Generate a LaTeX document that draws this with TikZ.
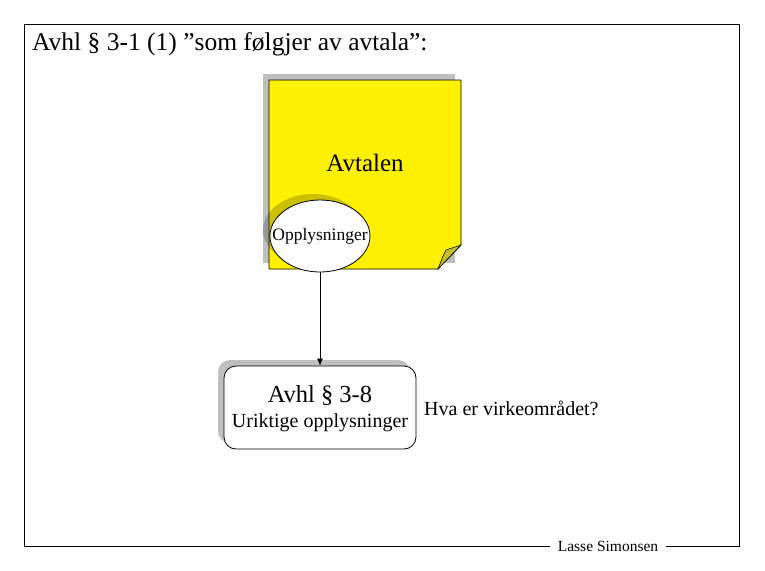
\documentclass[tikz,border=0pt]{standalone}
\usepackage{fontspec}
\setmainfont{Liberation Serif}
\usetikzlibrary{shapes.geometric,arrows.meta}
\begin{document}
\begin{tikzpicture}[x=1pt,y=-1pt,
  shadowfill/.style={fill=black!25},
  note/.style={fill=yellow, draw=black, line width=0.8pt},
  oval/.style={ellipse, draw=black, fill=white, line width=0.8pt, minimum width=100pt, minimum height=72pt, inner sep=0pt},
  rbox/.style={draw=black, fill=white, rounded corners=12pt, line width=0.8pt, minimum width=192pt, minimum height=83pt, inner sep=0pt},
  plain/.style={inner sep=0pt, anchor=west}]
\useasboundingbox (0,0) rectangle (765,570);
\fill[white] (0,0) rectangle (765,570);
% frame
\coordinate (fl) at (24,546);
\coordinate (fr) at (739,546);
\node[inner sep=0pt, font=\fontsize{15.5}{17}\selectfont] (author) at (608,546) {Lasse Simonsen};
\draw[line width=0.8pt] ([xshift=-8pt]author.west) -- (fl) -- (24,24) -- (739,24) -- (fr) -- ([xshift=8pt]author.east);
% title
\node[plain, font=\fontsize{25.5}{28}\selectfont] (title) at (32,44) {Avhl § 3-1 (1) ”som følgjer av avtala”:};
% sticky note
\fill[shadowfill] (263,74) rectangle (455,263);
\draw[note] (269,80) -- (461,80) -- (461,245) -- (438,269) -- (269,269) -- cycle;
\draw[fill={rgb,255:red,200;green,190;blue,40}, line width=0.6pt] (461,245) -- (446,250) .. controls (443,256) .. (438,269) -- cycle;
\node[font=\fontsize{25}{28}\selectfont] (avtalen) at (365,163) {Avtalen};
% ellipse
\fill[black, opacity=0.2] (313,230) ellipse (50pt and 36pt);
\node[oval, font=\fontsize{17.5}{19}\selectfont] (oppl) at (320,236) {\makebox[40pt]{Opplysninger}};
% rounded box
\fill[shadowfill, rounded corners=12pt] (218,360) rectangle (410,443);
\node[rbox] (avhl) at (320,407.5) {};
\node[inner sep=0pt, font=\fontsize{24.5}{26}\selectfont] (avhl1) at (320,396) {Avhl § 3-8};
\node[inner sep=0pt, font=\fontsize{20}{22}\selectfont] (avhl2) at (320,423) {Uriktige opplysninger};
\node[plain, font=\fontsize{20}{22}\selectfont] (hva) at (424,408) {Hva er virkeområdet?};
% arrow
\draw[line width=0.8pt, -{Latex[length=7pt,width=6pt]}] (oppl.south) -- (avhl.north);
\end{tikzpicture}
\end{document}
